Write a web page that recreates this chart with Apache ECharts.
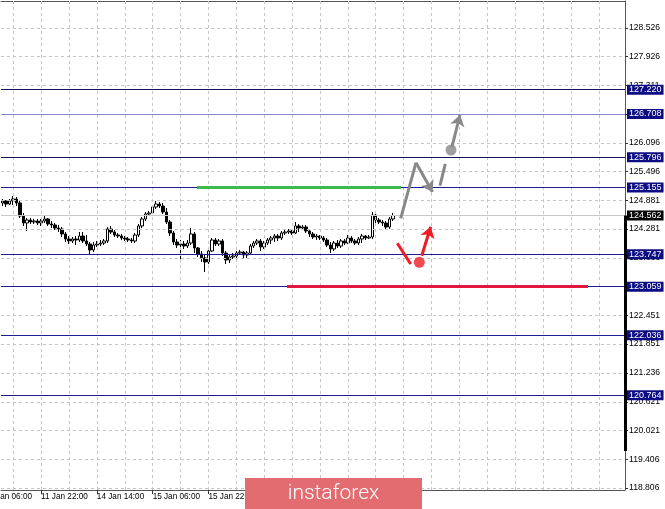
<!DOCTYPE html>
<html><head><meta charset="utf-8">
<script src="https://cdn.jsdelivr.net/npm/echarts@6/dist/echarts.min.js"></script>
<style>html,body{margin:0;padding:0;background:#fff}#c{width:665px;height:509px}</style>
</head><body><div id="c"></div>
<script>
// ---- time axis ----
const timeLabels = ['11 Jan 06:00','11 Jan 22:00','14 Jan 14:00','15 Jan 06:00','15 Jan 22:00','16 Jan 14:00','17 Jan 06:00'];
const timeLabelBars = [-5, 11, 27, 43, 59, 75, 91];
const vGridBars = [3,11,19,27,35,43,51,59,67,75,83,91,99,107,115,123,131,139,147,155,163,171];

// ---- candles (bar 0 = first visible candle) ----
const openP = [124.828,124.870,124.806,124.870,124.912,124.828,124.553,124.405,124.468,124.426,
124.447,124.405,124.447,124.490,124.384,124.363,124.299,124.278,124.173,124.067,
124.025,124.067,124.046,124.130,124.025,123.961,123.835,123.940,123.961,123.982,
124.025,124.278,124.215,124.151,124.130,124.088,124.067,124.046,124.025,124.151,
124.342,124.490,124.595,124.616,124.743,124.806,124.764,124.637,124.426,124.194,
124.004,123.940,123.961,123.919,123.982,124.173,123.877,123.750,123.666,123.581,
123.813,124.046,123.961,124.025,123.771,123.623,123.687,123.708,123.771,123.792,
123.729,123.771,123.919,123.982,124.025,123.898,123.982,124.046,124.088,124.130,
124.088,124.194,124.215,124.236,124.194,124.342,124.299,124.320,124.236,124.173,
124.109,124.130,124.088,124.046,123.940,123.856,123.982,123.919,124.025,123.982,
124.088,124.025,123.982,124.067,124.130,124.088,124.109,124.574,124.468,124.426,
124.405,124.320,124.490];
const closeP = [124.870,124.806,124.870,124.912,124.828,124.553,124.405,124.468,124.426,124.447,
124.405,124.447,124.490,124.384,124.363,124.299,124.278,124.173,124.067,124.025,
124.067,124.046,124.130,124.025,123.961,123.835,123.940,123.961,123.982,124.025,
124.278,124.215,124.151,124.130,124.088,124.067,124.046,124.025,124.151,124.342,
124.490,124.595,124.616,124.743,124.806,124.764,124.637,124.426,124.194,124.004,
123.940,123.961,123.919,123.982,124.173,123.877,123.750,123.666,123.581,123.813,
124.046,123.961,124.025,123.771,123.623,123.687,123.708,123.771,123.792,123.729,
123.771,123.919,123.982,124.025,123.898,123.982,124.046,124.088,124.130,124.088,
124.194,124.215,124.236,124.194,124.342,124.299,124.320,124.236,124.173,124.109,
124.130,124.088,124.046,123.940,123.856,123.982,123.919,124.025,123.982,124.088,
124.025,123.982,124.067,124.130,124.088,124.109,124.574,124.468,124.426,124.405,
124.320,124.490,124.562];
const lowP = [124.764,124.743,124.785,124.785,124.764,124.511,124.342,124.236,124.384,124.384,
124.363,124.342,124.405,124.342,124.299,124.257,124.215,124.109,124.004,123.961,
123.982,123.940,124.004,123.982,123.919,123.750,123.792,123.898,123.919,123.940,
123.982,124.173,124.109,124.088,124.046,124.025,124.004,123.982,123.982,124.109,
124.299,124.447,124.553,124.595,124.701,124.722,124.595,124.384,124.130,123.940,
123.877,123.623,123.856,123.877,123.940,123.771,123.687,123.581,123.370,123.539,
123.792,123.919,123.919,123.708,123.539,123.560,123.644,123.666,123.729,123.666,
123.666,123.729,123.877,123.940,123.813,123.856,123.940,123.961,124.004,124.025,
124.046,124.151,124.173,124.151,124.173,124.215,124.257,124.194,124.109,124.067,
124.046,124.046,124.004,123.898,123.771,123.813,123.877,123.877,123.940,123.961,
123.982,123.940,123.940,123.982,124.046,124.067,124.067,124.405,124.384,124.342,
124.257,124.278,124.447];
const highP = [124.912,124.891,124.912,124.975,124.954,124.870,124.616,124.511,124.511,124.490,
124.490,124.490,124.553,124.511,124.447,124.405,124.363,124.320,124.215,124.130,
124.109,124.130,124.215,124.215,124.151,124.004,124.004,124.025,124.046,124.067,
124.320,124.342,124.257,124.194,124.173,124.130,124.109,124.088,124.194,124.384,
124.532,124.637,124.659,124.785,124.870,124.849,124.828,124.722,124.468,124.236,
124.067,124.046,124.025,124.046,124.299,124.215,123.898,123.813,123.729,123.856,
124.088,124.088,124.067,124.067,123.813,123.750,123.771,123.813,123.835,123.813,
123.813,123.961,124.025,124.067,124.067,124.025,124.088,124.130,124.173,124.173,
124.236,124.257,124.278,124.278,124.426,124.384,124.363,124.363,124.278,124.215,
124.173,124.151,124.130,124.088,124.004,124.025,124.046,124.067,124.067,124.151,
124.130,124.067,124.109,124.173,124.151,124.151,124.637,124.616,124.511,124.468,
124.447,124.532,124.616];

// ---- price scale ----
const yTicks = [118.806,119.406,120.021,120.621,121.236,121.851,122.451,123.066,123.666,124.281,124.881,125.496,126.096,126.711,127.311,127.926,128.526];
const levels = [127.220,126.708,125.796,125.155,123.747,123.059,122.036,120.764];
const bidPrice = 124.562;
const scaleBar = [124.562, 119.588];

// ---- drawn annotations (bar-index, price) ----
const greenSeg = [[55.72,125.155],[114.25,125.155]];
const redSeg = [[81.54,123.059],[167.89,123.059]];
const grayPath = [[114.16,124.504],[118.55,125.679],[123.28,125.060]];
const grayDash = [[125.43,125.193],[126.95,125.652]];
const grayDot = [128.59,125.947];
const grayArrow = [[128.87,126.011],[131.17,126.687]];
const redStroke = [[113.18,123.976],[117.03,123.539]];
const redDot = [119.5,123.575];
const redArrow = [[120.19,123.714],[122.77,124.327]];

// ---- build ----
const N = 179;
const cats = [];
for (let i = 0; i < N; i++) cats.push(String(i));
const labelMap = {};
timeLabelBars.forEach((b, k) => { if (b >= 0) labelMap[b] = timeLabels[k]; });
const candleData = cats.map(() => '-');
for (let i = 0; i < openP.length; i++) candleData[i] = [openP[i], closeP[i], lowP[i], highP[i]];

const FONT = 'Liberation Sans';
const lvlLabel = bg => ({show:true, position:'end', distance:2, formatter: p => Number(p.value).toFixed(3),
  backgroundColor:bg, color:'#fff', padding:[1,2,0,2], fontSize:9, fontFamily:FONT});
const lineItem = (pts, color, arrow) => ({coords:pts, lineStyle:{color:color, width:3, opacity:1},
  symbol: arrow ? ['none','arrow'] : ['none','none']});

const GRAY = '#888888', RED = '#ee1c24';
const chart = echarts.init(document.getElementById('c'), null, {renderer:'canvas'});
chart.setOption({
  animation:false,
  backgroundColor:'#fff',
  grid:{left:1, right:40, top:1, bottom:19, containLabel:false},
  xAxis:[{
    type:'category', data:cats, boundaryGap:true,
    axisLine:{show:true, onZero:false, lineStyle:{color:'#555', width:1}},
    axisTick:{show:true, alignWithLabel:true, length:4, interval:(i) => labelMap[i] !== undefined, lineStyle:{color:'#333'}},
    axisLabel:{show:true, interval:(i) => labelMap[i] !== undefined, formatter:(v, i) => labelMap[i] || '',
      align:'left', margin:3, fontSize:8.2, fontFamily:FONT, color:'#000'},
    splitLine:{show:false}
  },{
    type:'value', position:'top', min:-0.5, max:N - 0.5,
    axisLine:{show:true, onZero:false, lineStyle:{color:'#555', width:1}},
    axisTick:{show:false}, axisLabel:{show:false}, splitLine:{show:false}
  }],
  yAxis:{
    type:'value', position:'right', min:118.764, max:129.095, scale:true,
    axisLine:{show:true, onZero:false, lineStyle:{color:'#555', width:1}},
    axisTick:{show:true, length:3, customValues:yTicks, lineStyle:{color:'#333'}},
    axisLabel:{show:true, customValues:yTicks, formatter:v => v.toFixed(3), margin:4, fontSize:8.6, fontFamily:FONT, color:'#000'},
    splitLine:{show:false}
  },
  series:[
    { // grid
      type:'line', xAxisIndex:1, data:[], silent:true, z:1,
      markLine:{silent:true, symbol:['none','none'], animation:false, precision:3, label:{show:false},
        lineStyle:{color:'#c4c4c4', type:[3,3], width:1},
        data: yTicks.map(v => ({yAxis:v})).concat(vGridBars.map(b => ({xAxis:b})))}
    },
    { // level lines
      type:'line', xAxisIndex:1, data:[], silent:true, z:3,
      markLine:{silent:true, symbol:['none','none'], animation:false, precision:3,
        data: [{yAxis:bidPrice, lineStyle:{color:'#c8c8c8', width:1, type:'solid'}, label:lvlLabel('#000')}]
          .concat(levels.map(v => ({yAxis:v,
            lineStyle:{color: v === 126.708 ? '#8a8ad2' : (v === 127.220 || v === 125.796 ? '#14145a' : '#1c1c96'), width:1, type:'solid'},
            label:lvlLabel('#0c0c84')})))
          .concat([[{coord:[N - 0.5, scaleBar[0]], lineStyle:{color:'#000', width:3, type:'solid'}, label:{show:false}},
                    {coord:[N - 0.5, scaleBar[1]]}]])}
    },
    {
      type:'candlestick', xAxisIndex:0, data:candleData, barWidth:3, z:4,
      itemStyle:{color:'#ffffff', color0:'#000000', borderColor:'#000000', borderColor0:'#000000', borderWidth:1}
    },
    {
      type:'lines', coordinateSystem:'cartesian2d', xAxisIndex:1, z:5, polyline:false, symbolSize:11,
      lineStyle:{width:3, opacity:1},
      data:[lineItem(greenSeg, '#3dba4e', false),
            lineItem(redSeg, '#e2173e', false),
            lineItem(grayDash, GRAY, false),
            lineItem(redStroke, RED, false),
            lineItem(grayPath.slice(0, 2), GRAY, false),
            lineItem(grayPath.slice(1, 3), GRAY, true),
            lineItem(grayArrow, GRAY, true),
            lineItem(redArrow, RED, true)]
    },
    {
      type:'scatter', xAxisIndex:1, z:7, symbol:'circle', symbolSize:11,
      data:[{value:grayDot, itemStyle:{color:GRAY}},
            {value:redDot, itemStyle:{color:RED}}]
    }
  ]
});
// clipped first time label (bar before the visible range) + watermark
const firstLabelX = chart.convertToPixel({xAxisIndex:1}, timeLabelBars[0]);
chart.setOption({
  graphic:[
    {type:'text', z:50, x:firstLabelX, y:493, style:{text:timeLabels[0], fill:'#000', font:'8.2px "Liberation Sans"', align:'left', verticalAlign:'top'}},
    {type:'rect', z:100, shape:{x:245, y:478, width:177, height:31}, style:{fill:'#e36c70'}},
    {type:'text', z:101, x:333.5, y:494, style:{text:'instaforex', fill:'#fff', font:'300 21px Roboto', align:'center', verticalAlign:'middle'}}
  ]
});
</script></body></html>
